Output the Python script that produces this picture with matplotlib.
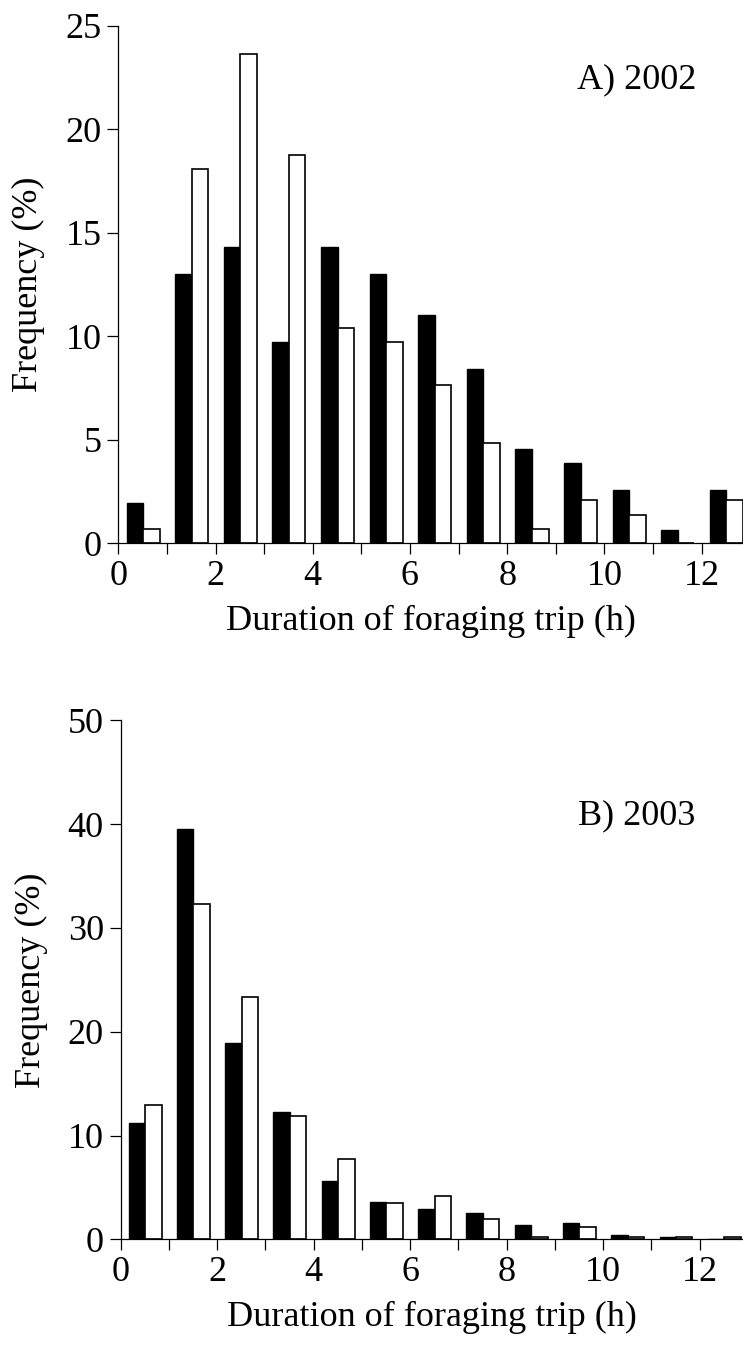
import matplotlib
matplotlib.use("Agg")
import matplotlib.pyplot as plt
import numpy as np

plt.rcParams['font.family'] = ['Liberation Serif', 'DejaVu Serif']

bins = list(range(13))

# Panel A) 2002
a_black = [1.95, 12.99, 14.29, 9.74, 14.29, 12.99, 11.04, 8.44, 4.55, 3.90, 2.60, 0.65, 2.60]
a_white = [0.69, 18.06, 23.61, 18.75, 10.42, 9.72, 7.64, 4.86, 0.69, 2.08, 1.39, 0.0, 2.08]

# Panel B) 2003
b_black = [11.2, 39.5, 18.9, 12.3, 5.6, 3.6, 2.9, 2.5, 1.4, 1.6, 0.45, 0.22, 0.0]
b_white = [12.9, 32.3, 23.3, 11.9, 7.7, 3.5, 4.2, 2.0, 0.25, 1.2, 0.25, 0.25, 0.25]

panels = [
    dict(black=a_black, white=a_white, ymax=25, ystep=5, label='A) 2002',
         rect=[118.3/743, 1-543.4/1348, 1-118.3/743, (543.4-25.7)/1348], xmax=12.85,
         txt=(0.83, 0.895)),
    dict(black=b_black, white=b_white, ymax=50, ystep=10, label='B) 2003',
         rect=[120.5/743, 1-1239.3/1348, 1-120.5/743, (1239.3-720.3)/1348], xmax=12.9,
         txt=(0.83, 0.815)),
]

fig = plt.figure(figsize=(7.43, 13.48), dpi=100)
fs = 26
w = 0.34
x = np.array(bins, dtype=float)
for p in panels:
    ax = fig.add_axes(p['rect'])
    ax.bar(x + 0.34, p['black'], width=w, color='black', edgecolor='black', linewidth=1.0)
    ax.bar(x + 0.68, p['white'], width=w, color='white', edgecolor='black', linewidth=1.2)
    ax.set_xlim(0, p['xmax'])
    ax.set_ylim(0, p['ymax'])
    ax.set_yticks(np.arange(0, p['ymax'] + 1, p['ystep']))
    ax.set_xticks(bins)
    ax.set_xticklabels([str(b) if b % 2 == 0 else '' for b in bins])
    ax.spines['top'].set_visible(False)
    ax.spines['right'].set_visible(False)
    for s in ('left', 'bottom'):
        ax.spines[s].set_linewidth(0.9)
    ax.tick_params(axis='both', direction='out', length=8, width=0.9, labelsize=fs, pad=4)
    ax.set_ylabel('Frequency (%)', fontsize=fs)
    ax.set_xlabel('Duration of foraging trip (h)', fontsize=fs)
    ax.yaxis.set_label_coords(-0.117, 0.5)
    ax.xaxis.set_label_coords(0.5, -0.118)
    ax.text(p['txt'][0], p['txt'][1], p['label'], transform=ax.transAxes,
            fontsize=fs, ha='center', va='center')

fig.savefig('out.png', dpi=100)
